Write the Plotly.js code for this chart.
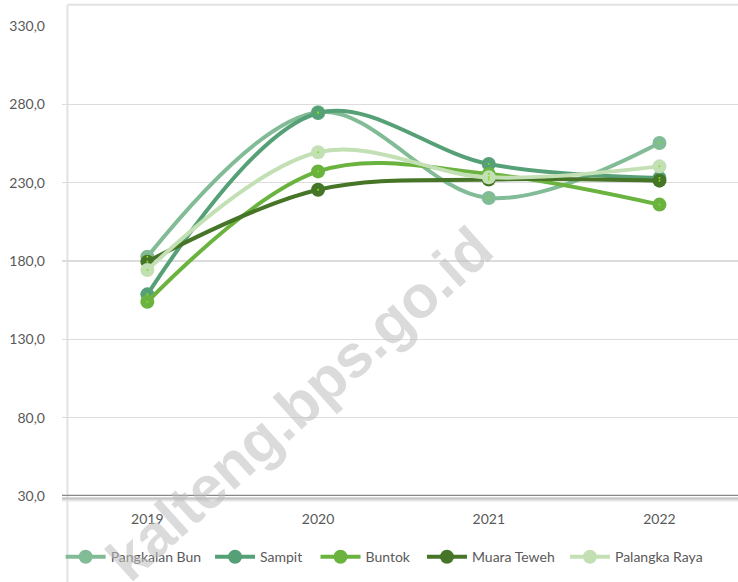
<!DOCTYPE html>
<html>
<head>
<meta charset="utf-8">
<script src="https://cdn.plot.ly/plotly-3.0.1.min.js"></script>
<style>
html,body{margin:0;padding:0;background:#fff;}
#chart{width:738px;height:582px;}
</style>
</head>
<body>
<div id="chart"></div>
<script>
var years = ["2019", "2020", "2021", "2022"];
var seriesNames = ["Pangkalan Bun", "Sampit", "Buntok", "Muara Teweh", "Palangka Raya"];
var pangkalanBun = [182.7, 275.0, 220.2, 255.3];
var sampit = [158.7, 274.5, 241.9, 233.0];
var buntok = [154.0, 237.2, 235.5, 216.0];
var muaraTeweh = [179.6, 225.5, 232.0, 231.3];
var palangkaRaya = [174.3, 249.4, 233.4, 240.4];
var yTickVals = [30, 80, 130, 180, 230, 280, 330];
var yTickText = ["30,0", "80,0", "130,0", "180,0", "230,0", "280,0", "330,0"];
var watermark = "kalteng.bps.go.id";

var colors = ["#82bc96", "#55a076", "#6bb33f", "#467527", "#c3e0b5"];
var allValues = [pangkalanBun, sampit, buntok, muaraTeweh, palangkaRaya];
var legendIds = ["legend", "legend2", "legend3", "legend4", "legend5"];
var legendX = [-0.002, 0.219, 0.375, 0.5325, 0.744];
var FONT = "Lato, 'Liberation Sans', sans-serif";

var traces = [];
for (var i = 0; i < seriesNames.length; i++) {
  traces.push({
    type: "scatter",
    mode: "lines+markers",
    name: seriesNames[i],
    legend: legendIds[i],
    x: years,
    y: allValues[i],
    line: {color: colors[i], width: 4, shape: "spline", smoothing: 1},
    marker: {color: colors[i], size: 14},
    hoverinfo: "x+y+name"
  });
}
for (var j = 0; j < seriesNames.length; j++) {
  traces.push({
    type: "scatter",
    mode: "markers",
    x: years,
    y: allValues[j],
    marker: {color: "#7fe020", size: 2},
    showlegend: false,
    hoverinfo: "skip"
  });
}

var layout = {
  width: 738,
  height: 582,
  margin: {l: 62, r: 0, t: 26, b: 86},
  paper_bgcolor: "#ffffff",
  plot_bgcolor: "#ffffff",
  font: {family: FONT, size: 14, color: "#595959"},
  showlegend: true,
  xaxis: {
    type: "category",
    range: [-0.5, 3.46],
    showgrid: false,
    zeroline: false,
    showline: false,
    ticks: "",
    ticklabelstandoff: 13,
    tickfont: {family: FONT, size: 14, color: "#595959"}
  },
  yaxis: {
    range: [30, 330],
    tickvals: yTickVals,
    ticktext: yTickText,
    showgrid: true,
    gridcolor: "#dcdcdc",
    gridwidth: 1.5,
    zeroline: false,
    showline: false,
    ticks: "",
    ticklabelstandoff: 16,
    tickfont: {family: FONT, size: 14, color: "#595959"}
  },
  shapes: [
    {type: "line", xref: "paper", yref: "paper", x0: 0.008, x1: 0.008, y0: -0.2, y1: 1.045,
     line: {color: "#e2e2e2", width: 2}, layer: "below"},
    {type: "line", xref: "paper", yref: "paper", x0: 0.008, x1: 1.05, y0: 1.045, y1: 1.045,
     line: {color: "#e2e2e2", width: 2}, layer: "below"},
    {type: "line", xref: "paper", yref: "paper", x0: 0, x1: 1, y0: -0.0096, y1: -0.0096,
     line: {color: "#e6e6e6", width: 2}, layer: "above"},
    {type: "line", xref: "paper", yref: "paper", x0: 0, x1: 1, y0: -0.0053, y1: -0.0053,
     line: {color: "#c8c8c8", width: 2.5}, layer: "above"},
    {type: "line", xref: "paper", yref: "y", x0: 0, x1: 1, y0: 30, y1: 30,
     line: {color: "#888888", width: 2.5}, layer: "above"}
  ],
  annotations: [
    {text: "<b>" + watermark + "</b>", xref: "paper", yref: "paper",
     x: 0.352, y: 0.196, xanchor: "center", yanchor: "middle", showarrow: false, textangle: -42,
     font: {family: "'Liberation Sans', Arial, sans-serif", size: 60, color: "rgba(190,190,190,0.55)"}}
  ]
};

for (var k = 0; k < legendIds.length; k++) {
  layout[legendIds[k]] = {
    orientation: "h",
    x: legendX[k], xanchor: "left",
    y: -0.13, yanchor: "middle",
    font: {family: FONT, size: 14, color: "#595959"},
    itemwidth: 40,
    bgcolor: "rgba(0,0,0,0)"
  };
}

Plotly.newPlot("chart", traces, layout, {displayModeBar: false, staticPlot: true});
</script>
</body>
</html>
